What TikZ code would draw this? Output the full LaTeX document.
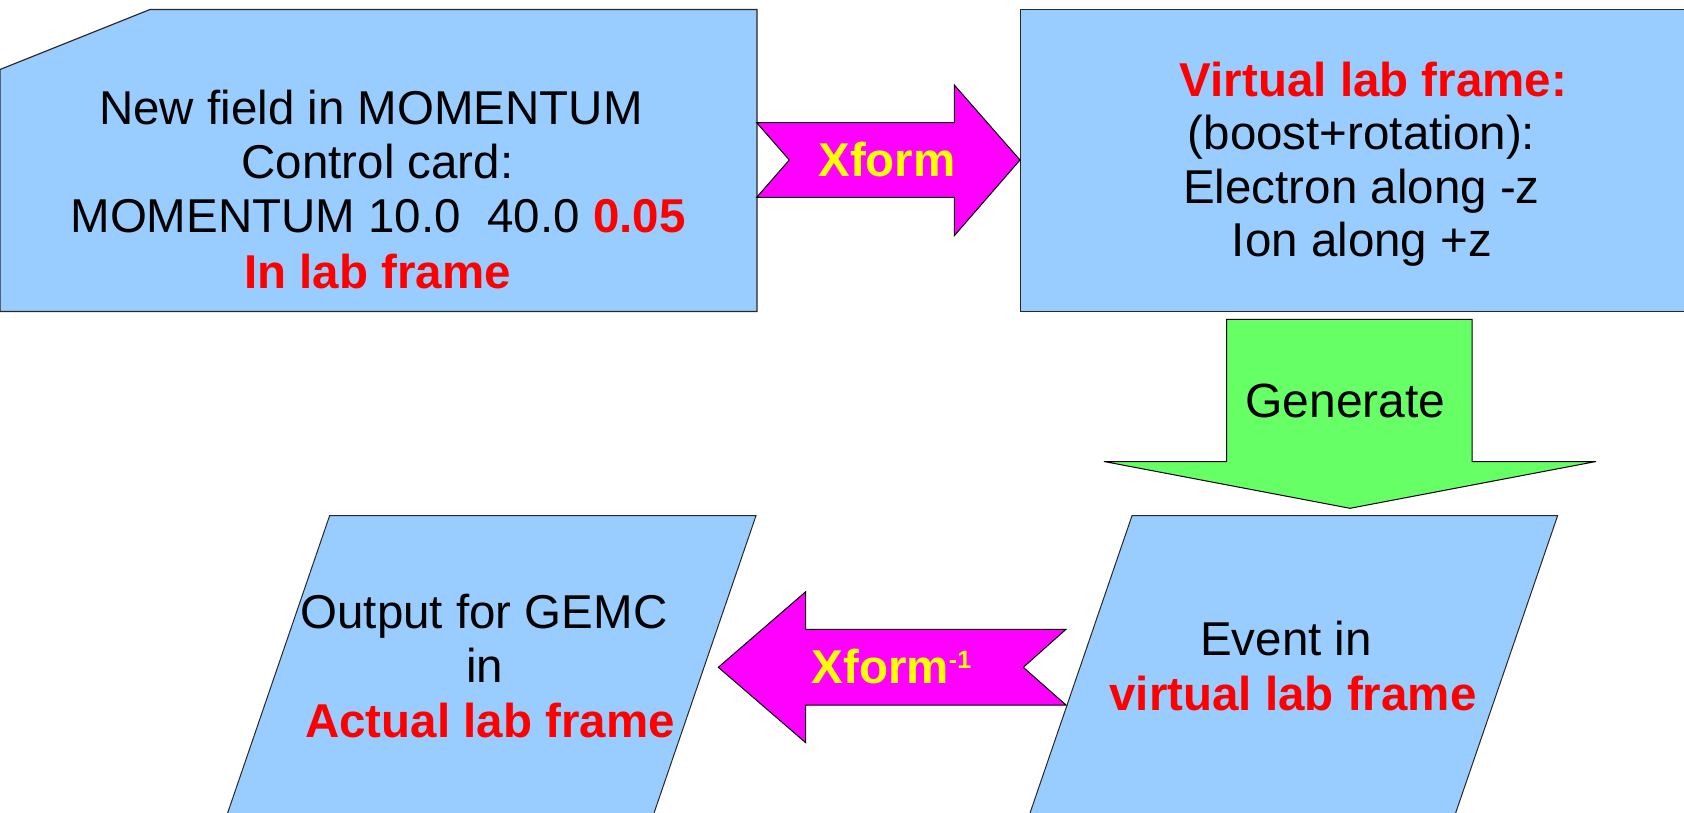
\documentclass[tikz,border=0pt]{standalone}
\usepackage{fontspec}
\setmainfont{Liberation Sans}
\definecolor{boxblue}{RGB}{153,204,255}
\definecolor{arrmag}{RGB}{255,0,255}
\definecolor{arrgreen}{RGB}{102,255,102}
\definecolor{txtred}{RGB}{255,0,0}
\definecolor{txtyellow}{RGB}{255,255,0}
\definecolor{edge}{RGB}{40,40,40}
\begin{document}
\begin{tikzpicture}[x=1pt,y=-1pt,
  card/.style={fill=boxblue,draw=edge,line width=1.2pt,line join=miter},
  magarrow/.style={fill=arrmag,draw=black,line width=1pt},
  grnarrow/.style={fill=arrgreen,draw=black,line width=1pt},
  txt/.style={inner sep=0pt,anchor=base,font=\fontsize{47.5}{54}\selectfont},
  redtxt/.style={txt,text=txtred,font=\fontsize{47.5}{54}\selectfont\bfseries},
  yeltxt/.style={txt,text=txtyellow,font=\fontsize{47.5}{54}\selectfont\bfseries}]
\useasboundingbox (0,0) rectangle (1684,813);
\clip (0,0) rectangle (1684,813);
\fill[white] (0,0) rectangle (1684,813);

% top-left card
\draw[card] (0,69.5) -- (150,9.5) -- (757,9.5) -- (757,311.5) -- (0,311.5) -- cycle;
\node[txt] (c1a) at (371,125) {New field in MOMENTUM};
\node[txt] (c1b) at (377.5,179) {Control card:};
\node[txt] (c1c) at (378,233) {MOMENTUM 10.0\ \ 40.0 \textcolor{txtred}{\bfseries 0.05}};
\node[redtxt] (c1d) at (377.5,288) {In lab frame};

% top-right card
\draw[card] (1020.5,9.5) rectangle (1700,311.5);
\node[redtxt] (c2a) at (1373.5,97) {Virtual lab frame:};
\node[txt] (c2b) at (1361.5,150) {(boost+rotation):};
\node[txt] (c2c) at (1361.5,203.5) {Electron along -z};
\node[txt] (c2d) at (1362,257) {Ion along +z};

% Xform arrow
\draw[magarrow] (756.7,122.7) -- (954.3,122.7) -- (954.3,85) -- (1020,160)
  -- (954.3,235.7) -- (954.3,197.3) -- (756.7,197.3) -- (789.3,160) -- cycle;
\node[yeltxt] (xf) at (887,177) {Xform};

% Generate arrow
\draw[grnarrow] (1226.5,319.3) -- (1472,319.3) -- (1472,461.5) -- (1596,461.5)
  -- (1350,508.3) -- (1104,461.5) -- (1226.5,461.5) -- cycle;
\node[txt,font=\fontsize{48}{54}\selectfont] (gen) at (1345.5,417) {Generate};

% Event parallelogram
\draw[card,line width=1pt] (1132,515.7) -- (1557.6,515.7) -- (1449.8,830) -- (1024.2,830) -- cycle;
\node[txt] (ev1) at (1286,655) {Event in};
\node[redtxt] (ev2) at (1293,710) {virtual lab frame};

% Xform^-1 arrow
\draw[magarrow] (718.3,667.3) -- (805.7,591.7) -- (805.7,629.3) -- (1066,629.3)
  -- (1023.3,667.3) -- (1066,705) -- (805.7,705) -- (805.7,742.7) -- cycle;
\node[yeltxt,anchor=base west] (xfi) at (811.5,683.3) {Xform\raisebox{15pt}{\fontsize{25}{25}\selectfont -1}};

% Output parallelogram
\draw[card,line width=1pt] (329.6,515.7) -- (756,515.7) -- (648.2,830) -- (221.8,830) -- cycle;
\node[txt] (out1) at (484,628) {Output for GEMC};
\node[txt] (out2) at (484.5,682.7) {in};
\node[redtxt] (out3) at (490,737) {Actual lab frame};
\end{tikzpicture}
\end{document}
